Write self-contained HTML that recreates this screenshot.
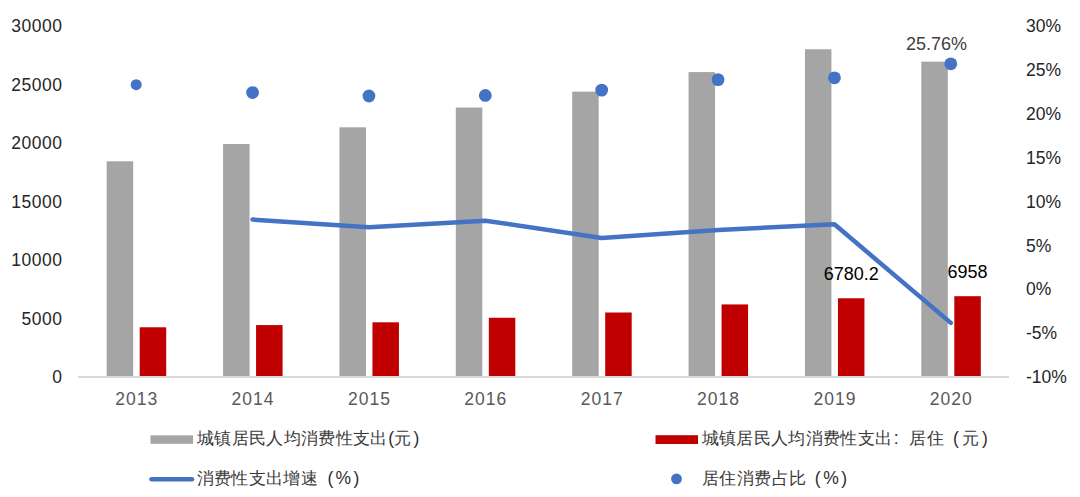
<!DOCTYPE html>
<html><head><meta charset="utf-8"><style>
html,body{margin:0;padding:0;background:#fff;width:1080px;height:497px;overflow:hidden}
svg{position:absolute;left:0;top:0}
text{font-family:"Liberation Sans", sans-serif}
</style></head><body>
<svg width="1080" height="497" viewBox="0 0 1080 497">
<line x1="78.0" y1="377.0" x2="1009.0" y2="377.0" stroke="#d9d9d9" stroke-width="2"/>
<rect x="106.69" y="161.29" width="26.5" height="214.71" fill="#a5a5a5"/>
<rect x="139.69" y="327.28" width="26.5" height="48.72" fill="#c00000"/>
<text x="136.69" y="404.7" text-anchor="middle" fill="#595959" font-size="17.5" letter-spacing="1">2013</text>
<rect x="223.06" y="143.97" width="26.5" height="232.03" fill="#a5a5a5"/>
<rect x="256.06" y="325.07" width="26.5" height="50.93" fill="#c00000"/>
<text x="253.06" y="404.7" text-anchor="middle" fill="#595959" font-size="17.5" letter-spacing="1">2014</text>
<rect x="339.44" y="127.31" width="26.5" height="248.69" fill="#a5a5a5"/>
<rect x="372.44" y="322.31" width="26.5" height="53.69" fill="#c00000"/>
<text x="369.44" y="404.7" text-anchor="middle" fill="#595959" font-size="17.5" letter-spacing="1">2015</text>
<rect x="455.81" y="107.58" width="26.5" height="268.42" fill="#a5a5a5"/>
<rect x="488.81" y="317.77" width="26.5" height="58.23" fill="#c00000"/>
<text x="485.81" y="404.7" text-anchor="middle" fill="#595959" font-size="17.5" letter-spacing="1">2016</text>
<rect x="572.19" y="91.59" width="26.5" height="284.41" fill="#a5a5a5"/>
<rect x="605.19" y="312.50" width="26.5" height="63.50" fill="#c00000"/>
<text x="602.19" y="404.7" text-anchor="middle" fill="#595959" font-size="17.5" letter-spacing="1">2017</text>
<rect x="688.56" y="72.09" width="26.5" height="303.91" fill="#a5a5a5"/>
<rect x="721.56" y="304.42" width="26.5" height="71.58" fill="#c00000"/>
<text x="718.56" y="404.7" text-anchor="middle" fill="#595959" font-size="17.5" letter-spacing="1">2018</text>
<rect x="804.94" y="49.26" width="26.5" height="326.74" fill="#a5a5a5"/>
<rect x="837.94" y="298.27" width="26.5" height="77.73" fill="#c00000"/>
<text x="834.94" y="404.7" text-anchor="middle" fill="#595959" font-size="17.5" letter-spacing="1">2019</text>
<rect x="921.31" y="61.62" width="26.5" height="314.38" fill="#a5a5a5"/>
<rect x="954.31" y="296.19" width="26.5" height="79.81" fill="#c00000"/>
<text x="951.31" y="404.7" text-anchor="middle" fill="#595959" font-size="17.5" letter-spacing="1">2020</text>
<text x="62.5" y="383.20" text-anchor="end" fill="#262626" font-size="17.5" letter-spacing="0.5">0</text>
<text x="62.5" y="324.70" text-anchor="end" fill="#262626" font-size="17.5" letter-spacing="0.5">5000</text>
<text x="62.5" y="266.20" text-anchor="end" fill="#262626" font-size="17.5" letter-spacing="0.5">10000</text>
<text x="62.5" y="207.70" text-anchor="end" fill="#262626" font-size="17.5" letter-spacing="0.5">15000</text>
<text x="62.5" y="149.20" text-anchor="end" fill="#262626" font-size="17.5" letter-spacing="0.5">20000</text>
<text x="62.5" y="90.70" text-anchor="end" fill="#262626" font-size="17.5" letter-spacing="0.5">25000</text>
<text x="62.5" y="32.20" text-anchor="end" fill="#262626" font-size="17.5" letter-spacing="0.5">30000</text>
<text x="1026" y="383.20" fill="#262626" font-size="17.5">-10%</text>
<text x="1026" y="339.32" fill="#262626" font-size="17.5">-5%</text>
<text x="1026" y="295.45" fill="#262626" font-size="17.5">0%</text>
<text x="1026" y="251.57" fill="#262626" font-size="17.5">5%</text>
<text x="1026" y="207.70" fill="#262626" font-size="17.5">10%</text>
<text x="1026" y="163.82" fill="#262626" font-size="17.5">15%</text>
<text x="1026" y="119.95" fill="#262626" font-size="17.5">20%</text>
<text x="1026" y="76.08" fill="#262626" font-size="17.5">25%</text>
<text x="1026" y="32.20" fill="#262626" font-size="17.5">30%</text>
<polyline points="252.56,219.60 368.94,227.27 485.31,220.65 601.69,237.91 718.06,230.01 834.44,224.29 950.81,322.87" fill="none" stroke="#4472c4" stroke-width="4.5" stroke-linecap="round" stroke-linejoin="round"/>
<circle cx="136.19" cy="84.69" r="5.5" fill="#4472c4"/>
<circle cx="252.56" cy="92.54" r="6.4" fill="#4472c4"/>
<circle cx="368.94" cy="95.99" r="6.4" fill="#4472c4"/>
<circle cx="485.31" cy="95.41" r="6.4" fill="#4472c4"/>
<circle cx="601.69" cy="90.12" r="6.4" fill="#4472c4"/>
<circle cx="718.06" cy="79.65" r="6.4" fill="#4472c4"/>
<circle cx="834.44" cy="77.84" r="6.4" fill="#4472c4"/>
<circle cx="950.81" cy="63.81" r="6.4" fill="#4472c4"/>
<text x="851.19" y="279.6" text-anchor="middle" fill="#000" font-size="18">6780.2</text>
<text x="967.56" y="278.1" text-anchor="middle" fill="#000" font-size="18">6958</text>
<text x="936.5" y="50.3" text-anchor="middle" fill="#404040" font-size="18">25.76%</text>
<rect x="150.5" y="435.3" width="42.5" height="8.5" fill="#a5a5a5"/>
<rect x="655.5" y="435.2" width="42.5" height="8.8" fill="#c00000"/>
<line x1="151.5" y1="479.2" x2="192" y2="479.2" stroke="#4472c4" stroke-width="4.5" stroke-linecap="round"/>
<circle cx="676.5" cy="478.9" r="5.4" fill="#4472c4"/>
<text x="205.30" y="444" text-anchor="middle" font-size="16.5" fill="#3a3a3a">城</text>
<text x="222.65" y="444" text-anchor="middle" font-size="16.5" fill="#3a3a3a">镇</text>
<text x="240.00" y="444" text-anchor="middle" font-size="16.5" fill="#3a3a3a">居</text>
<text x="257.35" y="444" text-anchor="middle" font-size="16.5" fill="#3a3a3a">民</text>
<text x="274.70" y="444" text-anchor="middle" font-size="16.5" fill="#3a3a3a">人</text>
<text x="292.05" y="444" text-anchor="middle" font-size="16.5" fill="#3a3a3a">均</text>
<text x="309.40" y="444" text-anchor="middle" font-size="16.5" fill="#3a3a3a">消</text>
<text x="326.75" y="444" text-anchor="middle" font-size="16.5" fill="#3a3a3a">费</text>
<text x="344.10" y="444" text-anchor="middle" font-size="16.5" fill="#3a3a3a">性</text>
<text x="361.45" y="444" text-anchor="middle" font-size="16.5" fill="#3a3a3a">支</text>
<text x="378.80" y="444" text-anchor="middle" font-size="16.5" fill="#3a3a3a">出</text>
<text x="391.25" y="444" text-anchor="middle" font-size="17.5" fill="#303030">(</text>
<text x="402.50" y="444" text-anchor="middle" font-size="16.5" fill="#3a3a3a">元</text>
<text x="416.40" y="444" text-anchor="middle" font-size="17.5" fill="#303030">)</text>
<text x="710.00" y="444" text-anchor="middle" font-size="16.5" fill="#3a3a3a">城</text>
<text x="727.35" y="444" text-anchor="middle" font-size="16.5" fill="#3a3a3a">镇</text>
<text x="744.70" y="444" text-anchor="middle" font-size="16.5" fill="#3a3a3a">居</text>
<text x="762.05" y="444" text-anchor="middle" font-size="16.5" fill="#3a3a3a">民</text>
<text x="779.40" y="444" text-anchor="middle" font-size="16.5" fill="#3a3a3a">人</text>
<text x="796.75" y="444" text-anchor="middle" font-size="16.5" fill="#3a3a3a">均</text>
<text x="814.10" y="444" text-anchor="middle" font-size="16.5" fill="#3a3a3a">消</text>
<text x="831.45" y="444" text-anchor="middle" font-size="16.5" fill="#3a3a3a">费</text>
<text x="848.80" y="444" text-anchor="middle" font-size="16.5" fill="#3a3a3a">性</text>
<text x="866.15" y="444" text-anchor="middle" font-size="16.5" fill="#3a3a3a">支</text>
<text x="883.50" y="444" text-anchor="middle" font-size="16.5" fill="#3a3a3a">出</text>
<text x="896.30" y="444" text-anchor="middle" font-size="17.5" fill="#303030">:</text>
<text x="917.70" y="444" text-anchor="middle" font-size="16.5" fill="#3a3a3a">居</text>
<text x="935.20" y="444" text-anchor="middle" font-size="16.5" fill="#3a3a3a">住</text>
<text x="956.00" y="444" text-anchor="middle" font-size="17.5" fill="#303030">(</text>
<text x="970.50" y="444" text-anchor="middle" font-size="16.5" fill="#3a3a3a">元</text>
<text x="984.80" y="444" text-anchor="middle" font-size="17.5" fill="#303030">)</text>
<text x="205.00" y="484" text-anchor="middle" font-size="16.5" fill="#3a3a3a">消</text>
<text x="222.35" y="484" text-anchor="middle" font-size="16.5" fill="#3a3a3a">费</text>
<text x="239.70" y="484" text-anchor="middle" font-size="16.5" fill="#3a3a3a">性</text>
<text x="257.05" y="484" text-anchor="middle" font-size="16.5" fill="#3a3a3a">支</text>
<text x="274.40" y="484" text-anchor="middle" font-size="16.5" fill="#3a3a3a">出</text>
<text x="291.75" y="484" text-anchor="middle" font-size="16.5" fill="#3a3a3a">增</text>
<text x="309.10" y="484" text-anchor="middle" font-size="16.5" fill="#3a3a3a">速</text>
<text x="330.35" y="484" text-anchor="middle" font-size="17.5" fill="#303030">(</text>
<text x="343.35" y="484" text-anchor="middle" font-size="17.5" fill="#303030">%</text>
<text x="356.45" y="484" text-anchor="middle" font-size="17.5" fill="#303030">)</text>
<text x="710.50" y="484" text-anchor="middle" font-size="16.5" fill="#3a3a3a">居</text>
<text x="727.88" y="484" text-anchor="middle" font-size="16.5" fill="#3a3a3a">住</text>
<text x="745.26" y="484" text-anchor="middle" font-size="16.5" fill="#3a3a3a">消</text>
<text x="762.64" y="484" text-anchor="middle" font-size="16.5" fill="#3a3a3a">费</text>
<text x="780.02" y="484" text-anchor="middle" font-size="16.5" fill="#3a3a3a">占</text>
<text x="797.40" y="484" text-anchor="middle" font-size="16.5" fill="#3a3a3a">比</text>
<text x="817.60" y="484" text-anchor="middle" font-size="17.5" fill="#303030">(</text>
<text x="830.95" y="484" text-anchor="middle" font-size="17.5" fill="#303030">%</text>
<text x="844.05" y="484" text-anchor="middle" font-size="17.5" fill="#303030">)</text>
</svg>

</body></html>
